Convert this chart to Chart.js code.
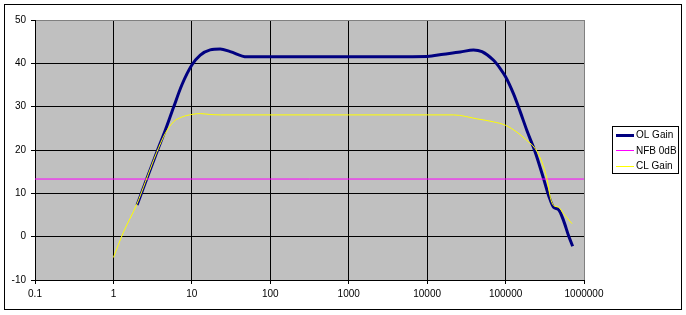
<!DOCTYPE html>
<html>
<head>
<meta charset="utf-8">
<script src="https://cdn.jsdelivr.net/npm/chart.js@4"></script>
<style>
html,body{margin:0;padding:0;background:#fff;}
canvas{display:block;}
</style>
</head>
<body>
<canvas id="c" width="686" height="315" style="width:686px;height:315px"></canvas>
<script>
const xTickValues = [0.1, 1, 10, 100, 1000, 10000, 100000, 1000000];
const xTickLabels = ['0.1', '1', '10', '100', '1000', '10000', '100000', '1000000'];

const olFreq = [2, 2.54, 3.57, 4.57, 5.83, 7.45, 10, 12.8, 17.1, 23, 30.8, 50, 100, 1000, 10000, 16200, 26400, 39000, 50000, 70300, 85500, 100000, 126000, 154000, 187000, 239000, 305000, 354000, 409000, 474000, 549000, 636000, 716000];
const olGain = [7.3, 12.4, 19.5, 24.5, 29.8, 35, 39.6, 41.9, 43.1, 43.3, 42.7, 41.5, 41.5, 41.5, 41.6, 42.1, 42.6, 43.1, 42.7, 40.7, 38.8, 36.9, 33.0, 28.8, 24.5, 19.5, 13.4, 9.5, 6.8, 6.25, 3.7, 0.2, -2.2];

const nfbFreq = [0.1, 1000000];
const nfbGain = [13.3, 13.3];

const clFreq = [1, 1.34, 2, 2.54, 3.57, 4.57, 5.83, 7.45, 10, 12.8, 17, 23, 1000, 21700, 43000, 70000, 100000, 140000, 187000, 239000, 291000, 337000, 372000, 409000, 474000, 549000, 703000];
const clGain = [-4.8, 1.0, 7.6, 12.5, 19.5, 23.8, 26.5, 27.6, 28.2, 28.4, 28.2, 28.1, 28.1, 28.1, 27.2, 26.5, 25.7, 24.1, 22.2, 20.3, 17.2, 13.4, 9.1, 7.2, 6.8, 5.3, 3.0];

const seriesNames = ['OL Gain', 'NFB 0dB', 'CL Gain'];
const seriesColors = ['#000080', '#FF00FF', '#FFFF00'];
const seriesWidths = [3, 1, 1];

const pts = (xs, ys) => xs.map((x, i) => ({x: x, y: ys[i]}));

const FONT = {family: 'Arial, "Liberation Sans", sans-serif', size: 10};

const framePlugin = {
  id: 'frame',
  beforeDraw(chart) {
    const ctx = chart.ctx, a = chart.chartArea;
    ctx.save();
    ctx.fillStyle = '#fff';
    ctx.fillRect(0, 0, chart.width, chart.height);
    ctx.fillStyle = '#C0C0C0';
    ctx.fillRect(a.left, a.top, a.right - a.left, a.bottom - a.top);
    ctx.strokeStyle = '#000';
    ctx.lineWidth = 1;
    ctx.strokeRect(4.5, 4.5, 677, 305);
    ctx.restore();
  },
  afterDraw(chart) {
    const ctx = chart.ctx;
    ctx.save();
    const lx = 612.5, ly = 126.5, lw = 66, lh = 47;
    ctx.fillStyle = '#fff';
    ctx.fillRect(lx, ly, lw, lh);
    ctx.strokeStyle = '#000';
    ctx.lineWidth = 1;
    ctx.strokeRect(lx, ly, lw, lh);
    ctx.font = '10px ' + FONT.family;
    ctx.textBaseline = 'middle';
    ctx.textAlign = 'left';
    chart.data.datasets.forEach((ds, i) => {
      const y = 134.5 + i * 15.8;
      const off = ds.borderWidth % 2 ? 0.5 : 0;
      ctx.strokeStyle = ds.borderColor;
      ctx.lineWidth = ds.borderWidth;
      ctx.beginPath();
      ctx.moveTo(616, Math.round(y) + off);
      ctx.lineTo(634, Math.round(y) + off);
      ctx.stroke();
      ctx.fillStyle = '#000';
      ctx.fillText(ds.label, 636, y + 0.5);
    });
    ctx.restore();
  }
};

new Chart(document.getElementById('c'), {
  type: 'line',
  data: {
    datasets: [
      {label: seriesNames[0], data: pts(olFreq, olGain), borderColor: seriesColors[0], borderWidth: seriesWidths[0], order: 3},
      {label: seriesNames[1], data: pts(nfbFreq, nfbGain), borderColor: seriesColors[1], borderWidth: seriesWidths[1], order: 2},
      {label: seriesNames[2], data: pts(clFreq, clGain), borderColor: seriesColors[2], borderWidth: seriesWidths[2], order: 1}
    ]
  },
  options: {
    responsive: false,
    animation: false,
    devicePixelRatio: 1,
    elements: {
      point: {radius: 0, hoverRadius: 0},
      line: {tension: 0, cubicInterpolationMode: 'monotone', fill: false}
    },
    layout: {padding: {left: 5, top: 20, right: 102, bottom: 5}},
    plugins: {legend: {display: false}, tooltip: {enabled: false}},
    scales: {
      x: {
        type: 'logarithmic',
        min: 0.1,
        max: 1000000,
        afterBuildTicks(scale) {
          scale.ticks = xTickValues.map(v => ({value: v}));
        },
        afterFit(scale) { scale.height = 30; },
        ticks: {
          autoSkip: false,
          maxRotation: 0,
          color: '#000',
          font: FONT,
          padding: 4,
          callback: (v, i) => xTickLabels[i]
        },
        grid: {
          color: ctx => (ctx.tick && ctx.tick.value === 1000000) ? '#808080' : '#000',
          tickColor: '#000',
          tickLength: 4,
          lineWidth: 1
        },
        border: {color: '#000', width: 1}
      },
      y: {
        type: 'linear',
        min: -10,
        max: 50,
        afterFit(scale) { scale.width = 30; },
        ticks: {
          stepSize: 10,
          color: '#000',
          font: FONT,
          padding: 5
        },
        grid: {
          color: ctx => (ctx.tick && ctx.tick.value === 50) ? '#808080' : '#000',
          tickColor: '#000',
          tickLength: 4,
          lineWidth: 1
        },
        border: {color: '#000', width: 1}
      }
    }
  },
  plugins: [framePlugin]
});
</script>
</body>
</html>
